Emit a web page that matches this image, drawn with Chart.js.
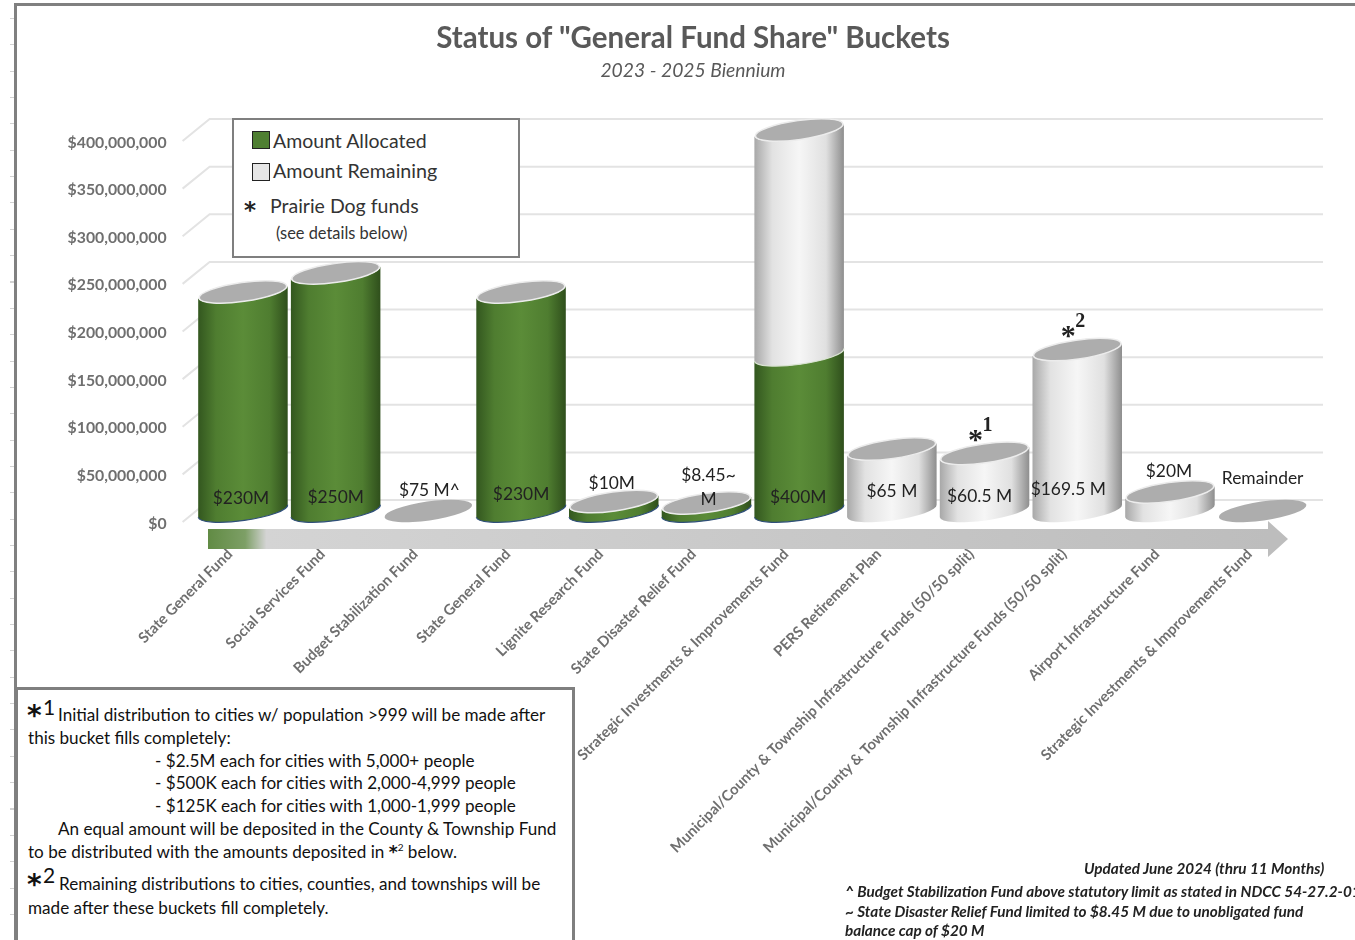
<!DOCTYPE html>
<html>
<head>
<meta charset="utf-8">
<title>General Fund Share Buckets</title>
<script src="https://cdn.jsdelivr.net/npm/chart.js@4/dist/chart.umd.min.js"></script>
<style>
    html, body { margin: 0; padding: 0; background: #fff; overflow: hidden; }
    body { width: 1355px; height: 940px; position: relative; font-family: Lato, "Open Sans", sans-serif; color: #111; }
    #chartWrap { position: absolute; left: 0; top: 0; width: 1355px; height: 940px; }
    .frame-top { position: absolute; left: 14px; top: 3px; right: 0; height: 3px; background: #808080; }
    .frame-left { position: absolute; left: 14px; top: 3px; bottom: 0; width: 3px; background: #808080; }
    .row-ticks { position: absolute; left: 10px; top: 18px; bottom: 0; width: 4px;
        background: repeating-linear-gradient(to bottom, #d2d2d2 0, #d2d2d2 1px, transparent 1px, transparent 26.35px); }
    .title { position: absolute; left: 693px; top: 19px; transform: translateX(-50%); white-space: nowrap;
        font-size: 29.5px; font-weight: 700; color: #595959; }
    .subtitle { position: absolute; left: 693px; top: 58px; transform: translateX(-50%); white-space: nowrap;
        font-size: 19.3px; font-style: italic; color: #595959; }
    .legend-box { position: absolute; left: 232px; top: 118px; width: 284px; height: 136px; background: #fff; border: 2px solid #7f7f7f; }
    .legend-box span { position: absolute; white-space: nowrap; }
    .swatch { width: 18px; height: 18px; border: 1px solid #222; box-sizing: border-box; }
    .notes-box { position: absolute; left: 15px; top: 687px; width: 554px; height: 260px; background: #fff; border: 3px solid #7f7f7f; }
    .notes-box div { position: absolute; white-space: nowrap; font-size: 17.1px; }
    .star { font-family: "DejaVu Sans", sans-serif; font-weight: 700; }
    .footnote { position: absolute; white-space: nowrap; font-size: 15.3px; font-weight: 700; font-style: italic; color: #222; }
</style>
</head>
<body>
<div id="chartWrap"><canvas id="bucketChart" width="1355" height="940"></canvas></div>
<div class="row-ticks"></div>
<div class="frame-top"></div>
<div class="frame-left"></div>

<div class="title">Status of "General Fund Share" Buckets</div>
<div class="subtitle">2023 - 2025 Biennium</div>

<div class="legend-box">
    <span class="swatch" style="left:18px;top:11px;background:#4f7f32"></span>
    <span style="left:39px;top:9px;font-size:19.5px;color:#333">Amount Allocated</span>
    <span class="swatch" style="left:18px;top:43px;background:#e6e6e6"></span>
    <span style="left:39px;top:39px;font-size:19.7px;color:#333">Amount Remaining</span>
    <span class="star" style="left:10px;top:79px;font-size:23px;line-height:23px;color:#222">*</span>
    <span style="left:36px;top:74px;font-size:19.5px;color:#333">Prairie Dog funds</span>
    <span style="left:42px;top:103px;font-size:16.4px;color:#333">(see details below)</span>
</div>

<div class="notes-box">
    <div class="star" style="left:9px;top:9px;font-size:28px">*</div>
    <div style="left:25px;top:4px;font-size:21px">1</div>
    <div style="left:40px;top:14px">Initial distribution to cities w/ population &gt;999 will be made after</div>
    <div style="left:10px;top:37px">this bucket fills completely:</div>
    <div style="left:137px;top:60px">- $2.5M each for cities with 5,000+ people</div>
    <div style="left:137px;top:82px">- $500K each for cities with 2,000-4,999 people</div>
    <div style="left:137px;top:105px">- $125K each for cities with 1,000-1,999 people</div>
    <div style="left:40px;top:128px">An equal amount will be deposited in the County &amp; Township Fund</div>
    <div style="left:10px;top:151px">to be distributed with the amounts deposited in <span class="star">*</span><sup style="font-size:10px">2</sup> below.</div>
    <div class="star" style="left:9px;top:178px;font-size:28px">*</div>
    <div style="left:25px;top:172px;font-size:21px">2</div>
    <div style="left:41px;top:183px">Remaining distributions to cities, counties, and townships will be</div>
    <div style="left:10px;top:207px">made after these buckets fill completely.</div>
</div>

<div class="footnote" style="left:1084px;top:859px">Updated June 2024 (thru 11 Months)</div>
<div class="footnote" style="left:845px;top:882px">^ Budget Stabilization Fund above statutory limit as stated in NDCC 54-27.2-01</div>
<div class="footnote" style="left:845px;top:902px">~ State Disaster Relief Fund limited to $8.45 M due to unobligated fund</div>
<div class="footnote" style="left:845px;top:921px">balance cap of $20 M</div>

<script>
// Bucket data, in dollars
const categories = [
    'State General Fund',
    'Social Services Fund',
    'Budget Stabilization Fund',
    'State General Fund',
    'Lignite Research Fund',
    'State Disaster Relief Fund',
    'Strategic Investments & Improvements Fund',
    'PERS Retirement Plan',
    'Municipal/County & Township Infrastructure Funds (50/50 split)',
    'Municipal/County & Township Infrastructure Funds (50/50 split)',
    'Airport Infrastructure Fund',
    'Strategic Investments & Improvements Fund'
];
// Budget Stabilization is an empty disc: its "$75 M^" is a capped note, not bucket height
const amountAllocated = [230e6, 250e6, 0, 230e6, 10e6, 8.45e6, 164e6, 0, 0, 0, 0, 0];
const amountRemaining = [0, 0, 0, 0, 0, 0, 236e6, 65e6, 60.5e6, 169.5e6, 20e6, 0];
const bucketLabels = ['$230M', '$250M', '$75 M^', '$230M', '$10M', ['$8.45~', 'M'], '$400M', '$65 M', '$60.5 M', '$169.5 M', '$20M', 'Remainder'];
const yTickValues = [0, 50e6, 100e6, 150e6, 200e6, 250e6, 300e6, 350e6, 400e6];

// Where each bucket label sits, relative to the bucket's centre and floor
const labelOffsets = [[-2, -13], [0, -14], [1, -21], [0, -17], [-2, -28], [2, -36], [-1, -14], [0, -20], [-5, -15], [-9, -22], [-1, -40], [0, -33]];
const fundMarkers = { 8: '1', 9: '2' };

// 3D look: the tick labels sit 12.5px in front of the buckets' floor line,
// the back wall 11px behind it
const FRONT_OFFSET = 12.5;
const BACK_OFFSET = 11;
const CAP_RY = 9.5;
const TILT = 8 * Math.PI / 180;

const greenSide = ['#33571f', '#4f7d30', '#5b8c38', '#4f7d30', '#2f4f1c'];
const whiteSide = ['#a8a8a8', '#e2e2e2', '#f6f6f6', '#e0e0e0', '#8e8e8e'];

function sideGradient(ctx, left, right, colors) {
    const grad = ctx.createLinearGradient(left, 0, right, 0);
    const stops = [0, 0.2, 0.5, 0.8, 1];
    colors.forEach((c, i) => grad.addColorStop(stops[i], c));
    return grad;
}

// One slice of a cylinder, between the base and the top pixel of a bar
function drawSide(ctx, x, top, base, rx, colors, edge) {
    const dx = rx * Math.cos(TILT);
    const dy = rx * Math.sin(TILT);
    ctx.beginPath();
    ctx.moveTo(x + dx, top - dy);
    ctx.lineTo(x + dx, base - dy);
    ctx.ellipse(x, base, rx, CAP_RY, -TILT, 0, Math.PI);
    ctx.lineTo(x - dx, top + dy);
    ctx.ellipse(x, top, rx, CAP_RY, -TILT, Math.PI, 0, true);
    ctx.closePath();
    ctx.fillStyle = sideGradient(ctx, x - dx, x + dx, colors);
    ctx.fill();
    if (edge) {
        ctx.beginPath();
        ctx.ellipse(x, base, rx, CAP_RY, -TILT, 0, Math.PI);
        ctx.strokeStyle = edge;
        ctx.lineWidth = 1.2;
        ctx.stroke();
    }
}

function drawCap(ctx, x, y, rx, rim) {
    ctx.beginPath();
    ctx.ellipse(x, y, rx, CAP_RY, -TILT, 0, Math.PI * 2);
    ctx.fillStyle = '#adadad';
    ctx.fill();
    if (rim) {
        ctx.strokeStyle = '#ececec';
        ctx.lineWidth = 1.5;
        ctx.stroke();
    }
}

// Back wall, side wall and the arrow running along the floor
const backdropPlugin = {
    id: 'backdrop',
    beforeDatasetsDraw(chart) {
        const ctx = chart.ctx;
        const buckets = chart.scales.y;
        const left = chart.scales.yFront.left + chart.scales.yFront.width;
        ctx.save();
        ctx.strokeStyle = '#e3e3e3';
        ctx.lineWidth = 2;
        yTickValues.forEach(v => {
            const py = buckets.getPixelForValue(v);
            ctx.beginPath();
            ctx.moveTo(left - 14, py + BACK_OFFSET);
            ctx.lineTo(left + 13, py - BACK_OFFSET);
            ctx.lineTo(1323, py - BACK_OFFSET);
            ctx.stroke();
        });

        const grad = ctx.createLinearGradient(208, 0, 1270, 0);
        grad.addColorStop(0, '#618b44');
        grad.addColorStop(0.035, '#7d9f66');
        grad.addColorStop(0.055, '#d4d4d4');
        grad.addColorStop(1, '#bdbdbd');
        ctx.beginPath();
        ctx.moveTo(208, 529);
        ctx.lineTo(1268, 529);
        ctx.lineTo(1268, 521);
        ctx.lineTo(1288, 539);
        ctx.lineTo(1268, 557);
        ctx.lineTo(1268, 549);
        ctx.lineTo(208, 549);
        ctx.closePath();
        ctx.fillStyle = grad;
        ctx.fill();
        ctx.restore();
    }
};

// Draws each stacked bar as a cylinder, using the positions the bar elements got from the scales
const cylinderPlugin = {
    id: 'cylinders',
    afterDatasetsDraw(chart) {
        const ctx = chart.ctx;
        const allocated = chart.getDatasetMeta(0).data;
        const remaining = chart.getDatasetMeta(1).data;
        ctx.save();
        allocated.forEach((bar, i) => {
            const rx = bar.width / 2;
            const hasGreen = amountAllocated[i] > 0;
            const hasWhite = amountRemaining[i] > 0;
            if (hasGreen) {
                drawSide(ctx, bar.x, bar.y, bar.base, rx, greenSide, '#2f4f7a');
            }
            if (hasWhite) {
                const upper = remaining[i];
                drawSide(ctx, upper.x, upper.y, upper.base, rx, whiteSide, hasGreen ? '#d8e2d0' : null);
            }
            const topY = hasWhite ? remaining[i].y : bar.y;
            drawCap(ctx, bar.x, topY, rx - 1, hasGreen || hasWhite);
        });

        // Bucket labels
        ctx.fillStyle = '#222';
        ctx.textAlign = 'center';
        ctx.textBaseline = 'middle';
        ctx.font = '17.4px Lato, sans-serif';
        allocated.forEach((bar, i) => {
            const lines = [].concat(bucketLabels[i]);
            const px = bar.x + labelOffsets[i][0];
            const py = bar.base + labelOffsets[i][1];
            lines.forEach((line, n) => ctx.fillText(line, px, py + n * 24));
        });

        // Prairie Dog markers above their buckets
        Object.keys(fundMarkers).forEach(i => {
            const top = remaining[i];
            ctx.fillStyle = '#222';
            ctx.font = 'bold 30px "Liberation Serif", serif';
            ctx.fillText('*', top.x - 9, top.y - 12);
            ctx.font = 'bold 20px "Liberation Serif", serif';
            ctx.fillText(fundMarkers[i], top.x + 3, top.y - 28);
        });
        ctx.restore();
    }
};

document.addEventListener('DOMContentLoaded', function() {
    const ctx = document.getElementById('bucketChart').getContext('2d');

    // $1M is 0.9525px tall. Buckets use the "y" scale, the tick labels use "yFront",
    // which is the same scale moved down to the front edge of the floor.
    const floorOffset = FRONT_OFFSET / 0.9525 * 1e6;

    new Chart(ctx, {
        type: 'bar',
        data: {
            labels: categories,
            datasets: [
                {
                    label: 'Amount Allocated',
                    data: amountAllocated,
                    backgroundColor: 'transparent',
                    borderWidth: 0,
                    stack: 'bucket'
                },
                {
                    label: 'Amount Remaining',
                    data: amountRemaining,
                    backgroundColor: 'transparent',
                    borderWidth: 0,
                    stack: 'bucket'
                }
            ]
        },
        options: {
            responsive: false,
            animation: false,
            devicePixelRatio: 1,
            layout: { padding: { top: 130, right: 46, bottom: 0, left: 0 } },
            datasets: { bar: { barPercentage: 0.975, categoryPercentage: 1 } },
            plugins: {
                legend: { display: false },
                tooltip: { enabled: false }
            },
            scales: {
                x: {
                    stacked: true,
                    grid: { display: false },
                    border: { display: false },
                    afterFit(axis) { axis.height = 416.5; },
                    ticks: {
                        autoSkip: false,
                        minRotation: 45,
                        maxRotation: 45,
                        padding: 14,
                        labelOffset: -13,
                        color: '#6f6f6f',
                        font: { family: 'Lato', size: 14.8, weight: 'bold' }
                    }
                },
                y: {
                    stacked: true,
                    display: false,
                    min: -floorOffset,
                    max: 400e6
                },
                yFront: {
                    position: 'left',
                    min: 0,
                    max: 400e6 + floorOffset,
                    grid: { display: false },
                    border: { display: false },
                    afterFit(axis) { axis.width = 196.6; },
                    afterBuildTicks(axis) { axis.ticks = yTickValues.map(v => ({ value: v })); },
                    ticks: {
                        padding: 22,
                        color: '#6f6f6f',
                        font: { family: 'Lato', size: 15.8, weight: 'bold' },
                        callback: value => '$' + value.toLocaleString('en-US')
                    }
                }
            }
        },
        plugins: [backdropPlugin, cylinderPlugin]
    });
});
</script>
</body>
</html>
